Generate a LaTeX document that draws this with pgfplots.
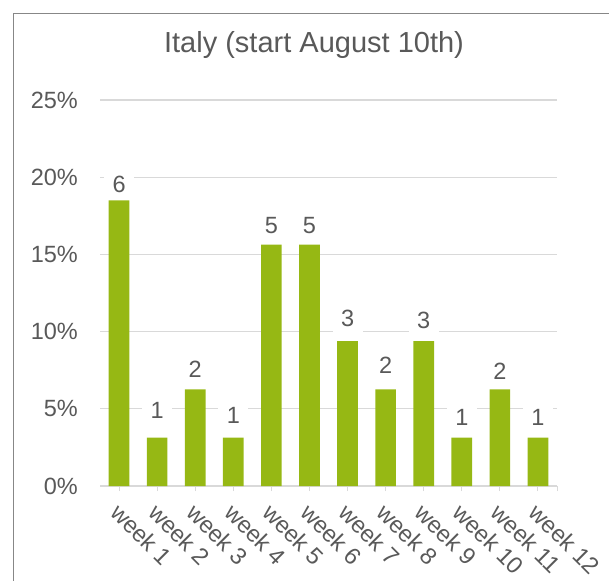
\documentclass[border=0pt]{standalone}
\usepackage{pgfplots}
\pgfplotsset{compat=1.18}
\usepackage{pgfplotstable}
\usepackage{fontspec}
\setmainfont{Liberation Sans}
\definecolor{barc}{HTML}{96B814}
\definecolor{txt}{HTML}{595959}
\definecolor{grd}{HTML}{D9D9D9}
\definecolor{frm}{HTML}{878787}
\newcommand{\lblfont}{\fontsize{23.5}{27}\selectfont}
\pgfplotstableread{
x y ly n
0 18.5 19.02 6
1 3.125 4.40 1
2 6.25 7.05 2
3 3.125 4.08 1
4 15.63 16.34 5
5 15.63 16.34 5
6 9.375 10.35 3
7 6.25 7.26 2
8 9.375 10.20 3
9 3.125 3.90 1
10 6.25 6.92 2
11 3.125 3.90 1
}\datatab
\begin{document}
\begin{tikzpicture}[x=1pt,y=1pt]
\useasboundingbox (0,0) rectangle (609,580);
\draw[frm, line width=1.5pt] (13.3,-5) -- (13.3,566.7) -- (615,566.7);
\node[anchor=base, text=txt, font=\fontsize{29}{34}\selectfont, inner sep=0pt] at (314,527) {Italy (start August 10th)};
\begin{axis}[
  at={(100pt,94pt)}, anchor=south west,
  scale only axis, width=457pt, height=386pt,
  xmin=-0.5, xmax=11.5, ymin=0, ymax=25,
  separate axis lines,
  axis x line*=bottom, axis y line*=left,
  x axis line style={grd, line width=1.3pt},
  y axis line style={draw=none},
  ymajorgrids, grid style={grd, line width=1.2pt},
  ytick={0,5,10,15,20,25},
  yticklabel={\lblfont\pgfmathprintnumber{\tick}\%},
  xtick=data,
  xticklabels={week 1,week 2,week 3,week 4,week 5,week 6,week 7,week 8,week 9,week 10,week 11,week 12},
  extra x ticks={11.5}, extra x tick labels={},
  extra x tick style={grid=none},
  tick align=outside, major tick length=5pt,
  x tick style={grd, line width=1pt},
  y tick style={draw=none},
  /pgf/number format/assume math mode=true,
  tick label style={font=\lblfont, text=txt},
  yticklabel style={inner sep=0pt, anchor=east, xshift=-17pt},
  xticklabel style={yshift=-11pt, xshift=2pt, rotate=-45, anchor=north west, inner sep=0pt, font=\lblfont},
]
\addplot[ybar, bar width=20.7pt, fill=barc, draw=none] table[x=x, y=y] {\datatab};
\addplot[only marks, mark=none, nodes near coords={\lblfont\pgfmathprintnumber{\pgfplotspointmeta}}, point meta=explicit,
  nodes near coords style={anchor=base, fill=white, inner xsep=8.5pt, inner ysep=6pt, text=txt, font=\lblfont}]
  table[x=x, y=ly, meta=n] {\datatab};
\end{axis}
\end{tikzpicture}
\end{document}
